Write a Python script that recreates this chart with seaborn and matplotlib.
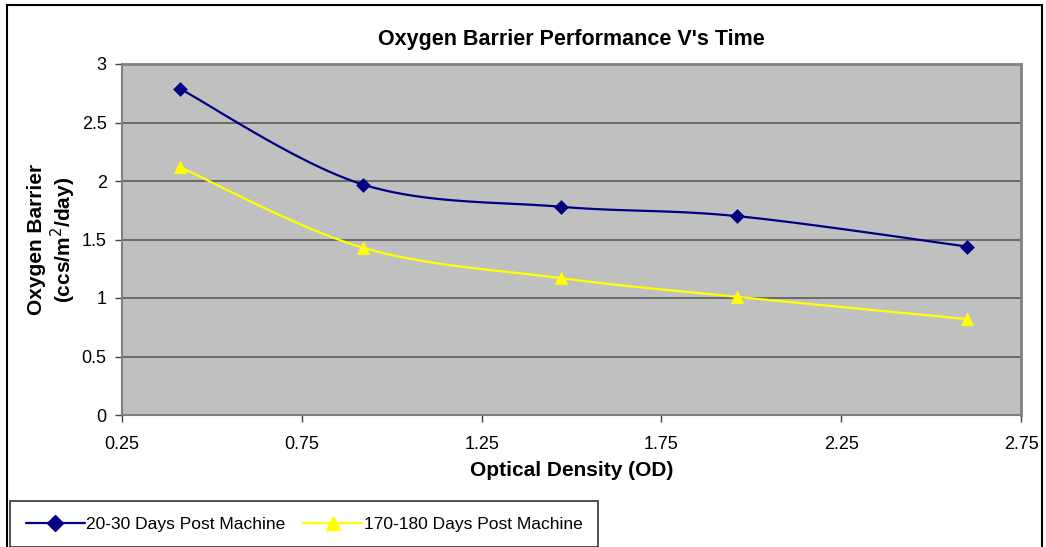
import numpy as np
import matplotlib
matplotlib.use("Agg")
import matplotlib.pyplot as plt
import seaborn as sns
import pandas as pd
from matplotlib.patches import Rectangle
from matplotlib.lines import Line2D

# Data
optical_density = [0.41, 0.92, 1.47, 1.96, 2.60]
barrier_20_30 = [2.79, 1.97, 1.78, 1.70, 1.44]
barrier_170_180 = [2.12, 1.43, 1.17, 1.01, 0.82]
series_names = ["20-30 Days Post Machine", "170-180 Days Post Machine"]
x_ticks = [0.25, 0.75, 1.25, 1.75, 2.25, 2.75]
y_ticks = [0, 0.5, 1, 1.5, 2, 2.5, 3]

sns.set_theme(style="white")
plt.rcParams['font.family'] = ['Liberation Sans', 'DejaVu Sans']
plt.rcParams['text.color'] = 'black'
plt.rcParams['axes.labelcolor'] = 'black'
plt.rcParams['xtick.color'] = 'black'
plt.rcParams['ytick.color'] = 'black'

W, H = 1046, 547
fig = plt.figure(figsize=(W / 100, H / 100), dpi=100)
ax = fig.add_axes([122 / W, 1 - 415 / H, (1021 - 122) / W, (415 - 64) / H])
ax.set_facecolor("#C0C0C0")

df = pd.DataFrame({
    "od": optical_density * 2,
    "barrier": barrier_20_30 + barrier_170_180,
    "series": [series_names[0]] * 5 + [series_names[1]] * 5,
})

colors = {series_names[0]: "#000080", series_names[1]: "#FFFF00"}
markers = {series_names[0]: "D", series_names[1]: "^"}
msizes = {series_names[0]: 7, series_names[1]: 9}


def smooth(xs, ys, n=30):
    # Catmull-Rom style smoothing through the data points (Excel "smoothed line")
    xs = np.asarray(xs, float); ys = np.asarray(ys, float)
    sx, sy = 2.5, 3.0 * (415 - 64) / (1021 - 122)
    px = xs / sx; py = ys / sy
    P = np.column_stack([px, py])
    P = np.vstack([P[0], P, P[-1]])
    out = []
    for i in range(1, len(P) - 2):
        p0, p1, p2, p3 = P[i - 1], P[i], P[i + 1], P[i + 2]
        t = np.linspace(0, 1, n, endpoint=(i == len(P) - 3))[:, None]
        c = 0.5 * ((2 * p1) + (-p0 + p2) * t + (2 * p0 - 5 * p1 + 4 * p2 - p3) * t ** 2
                   + (-p0 + 3 * p1 - 3 * p2 + p3) * t ** 3)
        out.append(c)
    out = np.vstack(out)
    return out[:, 0] * sx, out[:, 1] * sy


for name in series_names:
    sub = df[df.series == name]
    cx, cy = smooth(sub.od.values, sub.barrier.values)
    sns.lineplot(x=cx, y=cy, ax=ax, color=colors[name], lw=1.6, sort=False, zorder=3)
    sns.scatterplot(x=sub.od, y=sub.barrier, ax=ax, color=colors[name], marker=markers[name],
                    s=msizes[name] ** 2, edgecolor=colors[name], linewidth=0.5, zorder=4)

ax.set_xlim(0.25, 2.75)
ax.set_ylim(0, 3)
ax.set_xticks(x_ticks)
ax.set_xticklabels([f"{v:g}" for v in x_ticks])
ax.set_yticks(y_ticks)
ax.set_yticklabels([f"{v:g}" for v in y_ticks])
ax.yaxis.grid(True, color="#5A5A5A", lw=1.2)
ax.xaxis.grid(False)
ax.set_axisbelow(True)
for s in ["top", "right"]:
    ax.spines[s].set_color("#808080")
    ax.spines[s].set_linewidth(2)
for s in ["left", "bottom"]:
    ax.spines[s].set_color("#808080")
    ax.spines[s].set_linewidth(1.5)
ax.tick_params(axis="both", which="major", direction="out", length=5, width=1,
               color="#404040", labelsize=13, left=True, bottom=True, pad=6)
ax.tick_params(axis="x", pad=10)
ax.set_xlabel("Optical Density (OD)", fontsize=15, fontweight="bold", labelpad=6)
ax.set_ylabel("Oxygen Barrier\n(ccs/m$^2$/day)", fontsize=15, fontweight="bold", labelpad=3,
              linespacing=1.1)
ax.set_title("Oxygen Barrier Performance V's Time", fontsize=15.5, fontweight="bold", pad=14)

# Outer border
fig.patches.append(Rectangle((7 / W, -0.01), (1042 - 7) / W, 1 - 5 / H + 0.01,
                             transform=fig.transFigure, fill=False, ec="black", lw=1.5))

handles = [Line2D([], [], color=colors[n], marker=markers[n], markersize=msizes[n] + 1, lw=1.6)
           for n in series_names]
leg = fig.legend(handles, series_names, loc="upper left", bbox_to_anchor=(10 / W, 1 - 501 / H),
                 ncol=2, frameon=True, fancybox=False, fontsize=12.5, handlelength=3.4,
                 handletextpad=0.1, columnspacing=1.0, borderpad=0.9, borderaxespad=0)
leg.get_frame().set_edgecolor("black")
leg.get_frame().set_linewidth(1.2)

fig.savefig("out.png", dpi=100)
